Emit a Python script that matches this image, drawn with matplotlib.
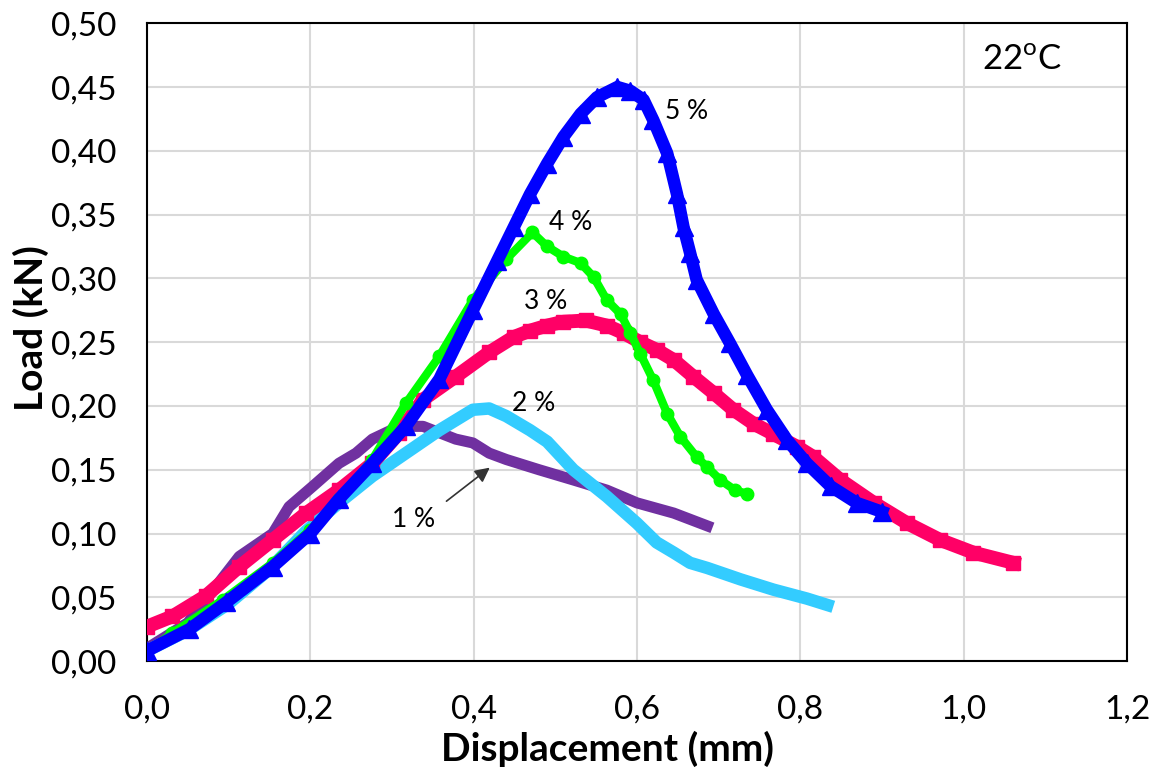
import matplotlib
matplotlib.use('Agg')
import matplotlib.pyplot as plt
from matplotlib.ticker import FuncFormatter, MultipleLocator

# 1 %
x_1 = [0.0, 0.05, 0.113, 0.154, 0.174, 0.203, 0.235, 0.256, 0.276, 0.309, 0.338,
       0.358, 0.378, 0.399, 0.419, 0.44, 0.48, 0.522, 0.563, 0.6, 0.645, 0.686]
y_1 = [0.01, 0.03, 0.082, 0.1, 0.121, 0.137, 0.155, 0.163, 0.174, 0.184, 0.184,
       0.179, 0.174, 0.171, 0.163, 0.158, 0.15, 0.142, 0.134, 0.124, 0.116, 0.106]

# 2 %
x_2 = [0.0, 0.05, 0.1, 0.15, 0.195, 0.235, 0.276, 0.317, 0.358, 0.399, 0.419, 0.44,
       0.469, 0.49, 0.522, 0.563, 0.6, 0.624, 0.645, 0.665, 0.686, 0.727, 0.767,
       0.808, 0.833]
y_2 = [0.008, 0.024, 0.045, 0.072, 0.102, 0.124, 0.145, 0.163, 0.181, 0.197, 0.198,
       0.192, 0.181, 0.172, 0.15, 0.129, 0.108, 0.093, 0.085, 0.077, 0.073, 0.064,
       0.056, 0.049, 0.044]

# 3 %
x_3 = [0.0, 0.031, 0.072, 0.113, 0.154, 0.195, 0.235, 0.276, 0.309, 0.338, 0.378,
       0.419, 0.449, 0.469, 0.49, 0.51, 0.537, 0.563, 0.584, 0.604, 0.624, 0.645,
       0.669, 0.694, 0.718, 0.743, 0.767, 0.796, 0.816, 0.849, 0.89, 0.931, 0.971,
       1.012, 1.061]
y_3 = [0.027, 0.035, 0.051, 0.074, 0.095, 0.116, 0.134, 0.155, 0.179, 0.205, 0.223,
       0.242, 0.254, 0.259, 0.263, 0.266, 0.267, 0.263, 0.257, 0.25, 0.244, 0.236,
       0.223, 0.21, 0.197, 0.186, 0.178, 0.168, 0.16, 0.142, 0.124, 0.108, 0.095,
       0.085, 0.077]

# 4 %
x_4 = [0.0, 0.031, 0.093, 0.154, 0.2, 0.235, 0.276, 0.317, 0.358, 0.399, 0.44, 0.472,
       0.49, 0.51, 0.531, 0.547, 0.563, 0.58, 0.592, 0.604, 0.62, 0.637, 0.653,
       0.673, 0.686, 0.702, 0.72, 0.735]
y_4 = [0.007, 0.022, 0.048, 0.077, 0.103, 0.127, 0.158, 0.202, 0.239, 0.283, 0.315,
       0.336, 0.325, 0.317, 0.312, 0.301, 0.283, 0.272, 0.257, 0.241, 0.22, 0.194,
       0.176, 0.16, 0.152, 0.142, 0.134, 0.131]

# 5 %
x_5 = [0.0, 0.052, 0.097, 0.154, 0.2, 0.235, 0.276, 0.317, 0.358, 0.399, 0.429,
       0.449, 0.469, 0.49, 0.51, 0.531, 0.551, 0.576, 0.592, 0.608, 0.62, 0.637,
       0.649, 0.657, 0.665, 0.673, 0.694, 0.714, 0.735, 0.759, 0.784, 0.808, 0.837,
       0.869, 0.9]
y_5 = [0.008, 0.025, 0.046, 0.074, 0.1, 0.127, 0.155, 0.184, 0.221, 0.275, 0.314,
       0.34, 0.366, 0.39, 0.411, 0.429, 0.442, 0.45, 0.447, 0.44, 0.424, 0.398,
       0.366, 0.34, 0.32, 0.299, 0.272, 0.249, 0.224, 0.197, 0.173, 0.155, 0.137,
       0.124, 0.117]

labels = ['1 %', '2 %', '3 %', '4 %', '5 %']
label_pos = [(0.327, 0.111), (0.474, 0.202), (0.488, 0.282), (0.519, 0.344), (0.661, 0.431)]


def comma(v, pos, digits):
    return f'{v:.{digits}f}'.replace('.', ',')


def plot_curves():
    plt.rcParams['font.family'] = ['Lato', 'DejaVu Sans']
    plt.rcParams['mathtext.fontset'] = 'custom'
    plt.rcParams['mathtext.rm'] = 'Lato'

    fig = plt.figure(figsize=(11.52, 7.75), dpi=100)
    ax = fig.add_axes([0.1276, 0.147, 0.8507, 0.823])

    # curves (thick lines + markers, as in the original dense scatter)
    ax.plot(x_1, y_1, color='#7030A0', lw=8, zorder=3)
    ax.plot(x_2, y_2, color='#33CCFF', lw=9, zorder=4)
    ax.plot(x_3, y_3, color='#FF0066', lw=10, marker='s', ms=10, zorder=5)
    ax.plot(x_4, y_4, color='#00FF00', lw=6, marker='o', ms=9, zorder=6)
    ax.plot(x_5, y_5, color='#0000FF', lw=9, marker='^', ms=13, zorder=7)

    ax.set_xlim(0, 1.2)
    ax.set_ylim(0, 0.5)
    ax.xaxis.set_major_locator(MultipleLocator(0.2))
    ax.yaxis.set_major_locator(MultipleLocator(0.05))
    ax.xaxis.set_major_formatter(FuncFormatter(lambda v, p: comma(v, p, 1)))
    ax.yaxis.set_major_formatter(FuncFormatter(lambda v, p: comma(v, p, 2)))
    ax.tick_params(length=0, labelsize=24)
    ax.tick_params(axis='y', pad=22)
    ax.tick_params(axis='x', pad=24)
    ax.grid(True, color='#D9D9D9', lw=1.5)
    ax.set_axisbelow(True)
    for s in ax.spines.values():
        s.set_color('black')
        s.set_linewidth(1.5)

    ax.set_xlabel('Displacement (mm)', fontsize=28, fontweight='bold')
    ax.xaxis.set_label_coords(0.470, -0.110)
    ax.set_ylabel('Load (kN)', fontsize=28, fontweight='bold')
    ax.yaxis.set_label_coords(-0.100, 0.522)

    # series labels
    for txt, (tx, ty) in zip(labels, label_pos):
        ax.text(tx, ty, txt, fontsize=19, ha='center', va='center', zorder=8)
    ax.annotate('', xy=(0.4224, 0.153), xytext=(0.364, 0.124),
                arrowprops=dict(arrowstyle='-|>', color='#333333', lw=1.2,
                                mutation_scale=22), zorder=8)

    ax.text(1.071, 0.471, r'22$^{\mathrm{o}}$C', fontsize=25, ha='center', va='center')

    fig.savefig('out.png', dpi=100)


if __name__ == '__main__':
    plot_curves()
